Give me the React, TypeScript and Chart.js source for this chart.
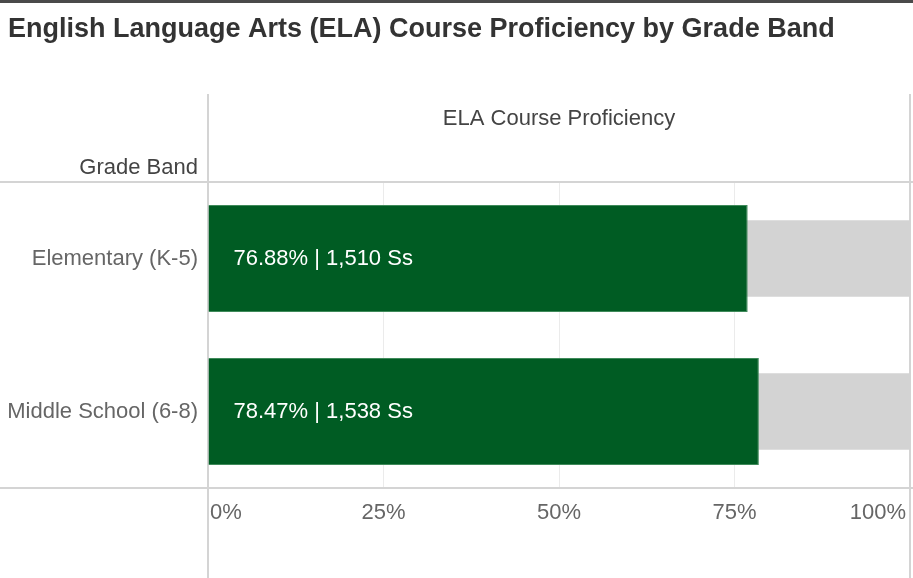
import React, { useEffect, useRef } from "react";
import { Chart, registerables } from "chart.js";

Chart.register(...registerables);

const title = "English Language Arts (ELA) Course Proficiency by Grade Band";
const columnHeader = "ELA Course Proficiency";
const rowHeader = "Grade Band";
const categories = ["Elementary (K-5)", "Middle School (6-8)"];
const proficiency = [76.88, 78.47];
const students = [1510, 1538];
const totals = [100, 100];
const xTicks = [0, 25, 50, 75, 100];

const FONT = "'Liberation Sans', Arial, sans-serif";

export default function App() {
  const ref = useRef<HTMLCanvasElement | null>(null);

  useEffect(() => {
    document.body.style.margin = "0";
    const canvas = ref.current;
    if (!canvas) return;

    const decor = {
      id: "decor",
      beforeDatasetsDraw(chart: any) {
        const { ctx, chartArea, width, height } = chart;
        const { left, right, top, bottom } = chartArea;
        ctx.save();
        ctx.fillStyle = "#4a4a4a";
        ctx.fillRect(0, 0, width, 3);
        ctx.strokeStyle = "#d4d4d4";
        ctx.lineWidth = 2;
        ctx.beginPath();
        ctx.moveTo(left, 94);
        ctx.lineTo(left, height);
        ctx.moveTo(right, 94);
        ctx.lineTo(right, height);
        ctx.moveTo(0, top);
        ctx.lineTo(width, top);
        ctx.moveTo(0, bottom);
        ctx.lineTo(width, bottom);
        ctx.stroke();
        ctx.restore();
      },
      afterDatasetsDraw(chart: any) {
        const { ctx, chartArea, scales } = chart;
        const { left, right, bottom } = chartArea;
        ctx.save();
        ctx.fillStyle = "#333";
        ctx.font = `bold 27px ${FONT}`;
        ctx.textAlign = "left";
        ctx.textBaseline = "middle";
        ctx.fillText(title, 8, 30);
        ctx.font = `22px ${FONT}`;
        ctx.fillStyle = "#444";
        ctx.textAlign = "center";
        ctx.fillText(columnHeader, (left + right) / 2, 119);
        ctx.textAlign = "right";
        ctx.fillText(rowHeader, left - 10, 168);
        ctx.fillStyle = "#666";
        categories.forEach((c, i) => {
          ctx.fillText(c, left - 10, scales.y.getPixelForValue(i));
        });
        xTicks.forEach((v, i) => {
          const x = scales.x.getPixelForValue(v);
          if (i === 0) {
            ctx.textAlign = "left";
            ctx.fillText(v + "%", x + 2, bottom + 25);
          } else if (i === xTicks.length - 1) {
            ctx.textAlign = "right";
            ctx.fillText(v + "%", x - 4, bottom + 25);
          } else {
            ctx.textAlign = "center";
            ctx.fillText(v + "%", x, bottom + 25);
          }
        });
        ctx.fillStyle = "#ffffff";
        ctx.textAlign = "left";
        const meta = chart.getDatasetMeta(0);
        meta.data.forEach((bar: any, i: number) => {
          const label =
            proficiency[i].toFixed(2) + "% | " + students[i].toLocaleString("en-US") + " Ss";
          ctx.fillText(label, bar.base + 25, bar.y);
        });
        ctx.restore();
      },
    };

    const chart = new Chart(canvas, {
      type: "bar",
      data: {
        labels: categories,
        datasets: [
          {
            data: proficiency,
            backgroundColor: "#005c23",
            borderColor: "#3f8a5a",
            borderWidth: 1,
            barPercentage: 0.7,
            categoryPercentage: 1,
            grouped: false,
          },
          {
            data: totals,
            backgroundColor: "#d3d3d3",
            barPercentage: 0.5,
            categoryPercentage: 1,
            grouped: false,
          },
        ],
      },
      options: {
        indexAxis: "y",
        animation: false,
        responsive: false,
        maintainAspectRatio: false,
        layout: { padding: { left: 208, right: 3, top: 182, bottom: 90 } },
        plugins: {
          legend: { display: false },
          tooltip: { enabled: false },
          title: { display: false },
        },
        scales: {
          x: {
            min: 0,
            max: 100,
            ticks: { display: false, stepSize: 25 },
            grid: {
              drawTicks: false,
              color: (c: any) =>
                c.tick && c.tick.value > 0 && c.tick.value < 100 ? "#ebebeb" : "rgba(0,0,0,0)",
            },
            border: { display: false },
          },
          y: {
            ticks: { display: false },
            grid: { display: false, drawTicks: false },
            border: { display: false },
          },
        },
      },
      plugins: [decor],
    });
    return () => chart.destroy();
  }, []);

  return (
    <div style={{ position: "absolute", left: 0, top: 0, width: 913, height: 578, background: "#fff" }}>
      <canvas ref={ref} width={913} height={578} style={{ width: 913, height: 578 }} />
    </div>
  );
}
